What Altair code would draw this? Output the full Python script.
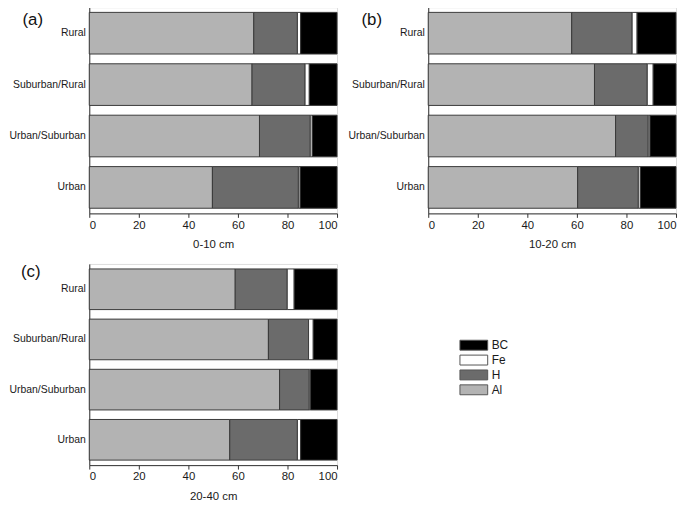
import altair as alt
import pandas as pd

FONT = "Liberation Sans"

sites = ["Rural", "Suburban/Rural", "Urban/Suburban", "Urban"]
components = ["Al", "H", "Fe", "BC"]           # stacking order, left to right
legend_order = ["BC", "Fe", "H", "Al"]
legend_colors = ["#000000", "#ffffff", "#6b6b6b", "#b3b3b3"]
depths = ["0-10 cm", "10-20 cm", "20-40 cm"]
panel_labels = ["(a)", "(b)", "(c)"]

# percentages per site (Rural, Suburban/Rural, Urban/Suburban, Urban)
al_0_10 = [66.4, 65.7, 68.7, 49.7]
h_0_10 = [17.6, 21.4, 20.5, 34.7]
fe_0_10 = [1.3, 1.7, 0.8, 0.7]
bc_0_10 = [14.7, 11.2, 10.0, 14.9]

al_10_20 = [57.9, 67.1, 75.6, 60.3]
h_10_20 = [24.4, 21.3, 13.2, 24.5]
fe_10_20 = [2.0, 2.4, 0.7, 0.8]
bc_10_20 = [15.7, 9.2, 10.5, 14.4]

al_20_40 = [58.9, 72.3, 76.8, 56.7]
h_20_40 = [21.0, 16.2, 12.0, 27.3]
fe_20_40 = [2.8, 1.9, 0.5, 1.3]
bc_20_40 = [17.3, 9.6, 10.7, 14.7]

x_ticks = [0, 20, 40, 60, 80, 100]

series = {
    "0-10 cm": [al_0_10, h_0_10, fe_0_10, bc_0_10],
    "10-20 cm": [al_10_20, h_10_20, fe_10_20, bc_10_20],
    "20-40 cm": [al_20_40, h_20_40, fe_20_40, bc_20_40],
}

rows = []
for depth in depths:
    for ci, comp in enumerate(components):
        for si, site in enumerate(sites):
            rows.append({"depth": depth, "component": comp, "ord": ci,
                         "site": site, "value": series[depth][ci][si]})
df = pd.DataFrame(rows)


def panel(depth, label, h, lx, ly):
    d = df[df.depth == depth]
    bars = alt.Chart(d).mark_bar(stroke="#3a3a3a", strokeWidth=1, opacity=1).encode(
        y=alt.Y("site:N", sort=sites,
                scale=alt.Scale(paddingInner=0.19, paddingOuter=0.1),
                axis=alt.Axis(title=None, ticks=False, labelPadding=4,
                              labelFontSize=10.5, labelFont=FONT,
                              labelColor="#1a1a1a", domainColor="#333333")),
        x=alt.X("value:Q", stack="zero",
                scale=alt.Scale(domain=[0, 100], nice=False),
                axis=alt.Axis(values=x_ticks, title=depth, grid=False,
                              tickSize=4, labelPadding=2, labelFontSize=11.5,
                              labelFont=FONT, titleFont=FONT, titleFontSize=11.5,
                              titleFontWeight="normal", titlePadding=8,
                              labelColor="#1a1a1a", titleColor="#1a1a1a",
                              domainColor="#333333", tickColor="#333333")),
        color=alt.Color("component:N",
                        scale=alt.Scale(domain=legend_order, range=legend_colors),
                        legend=alt.Legend(title=None, orient="none",
                                          legendX=382, legendY=335,
                                          symbolType="M-2.8,-1H2.8V1H-2.8Z",
                                          symbolSize=100, symbolStrokeColor="#555555",
                                          symbolStrokeWidth=1, symbolOpacity=1,
                                          labelFont=FONT, labelFontSize=12,
                                          labelColor="#1a1a1a", labelOffset=12,
                                          rowPadding=1)),
        order=alt.Order("ord:Q"),
    )
    lab = alt.Chart(pd.DataFrame({"t": [label]})).mark_text(
        font=FONT, fontSize=17, align="center", baseline="top", color="#111111"
    ).encode(text="t:N", x=alt.value(lx), y=alt.value(ly))
    return alt.layer(bars, lab).properties(width=250, height=h)


pa = panel(depths[0], panel_labels[0], 208, -57, 5)
pb = panel(depths[1], panel_labels[1], 208, -57, 5)
pc = panel(depths[2], panel_labels[2], 203, -59, 0)

chart = alt.vconcat(
    alt.hconcat(pa, pb, spacing=8),
    pc,
    spacing=11,
).properties(
    padding={"left": 0, "top": -4, "right": 0, "bottom": 0}
).configure_view(
    stroke="#333333", strokeWidth=1
).configure(background="white")

chart.save("out.html", embed_options={"renderer": "svg", "actions": False})
